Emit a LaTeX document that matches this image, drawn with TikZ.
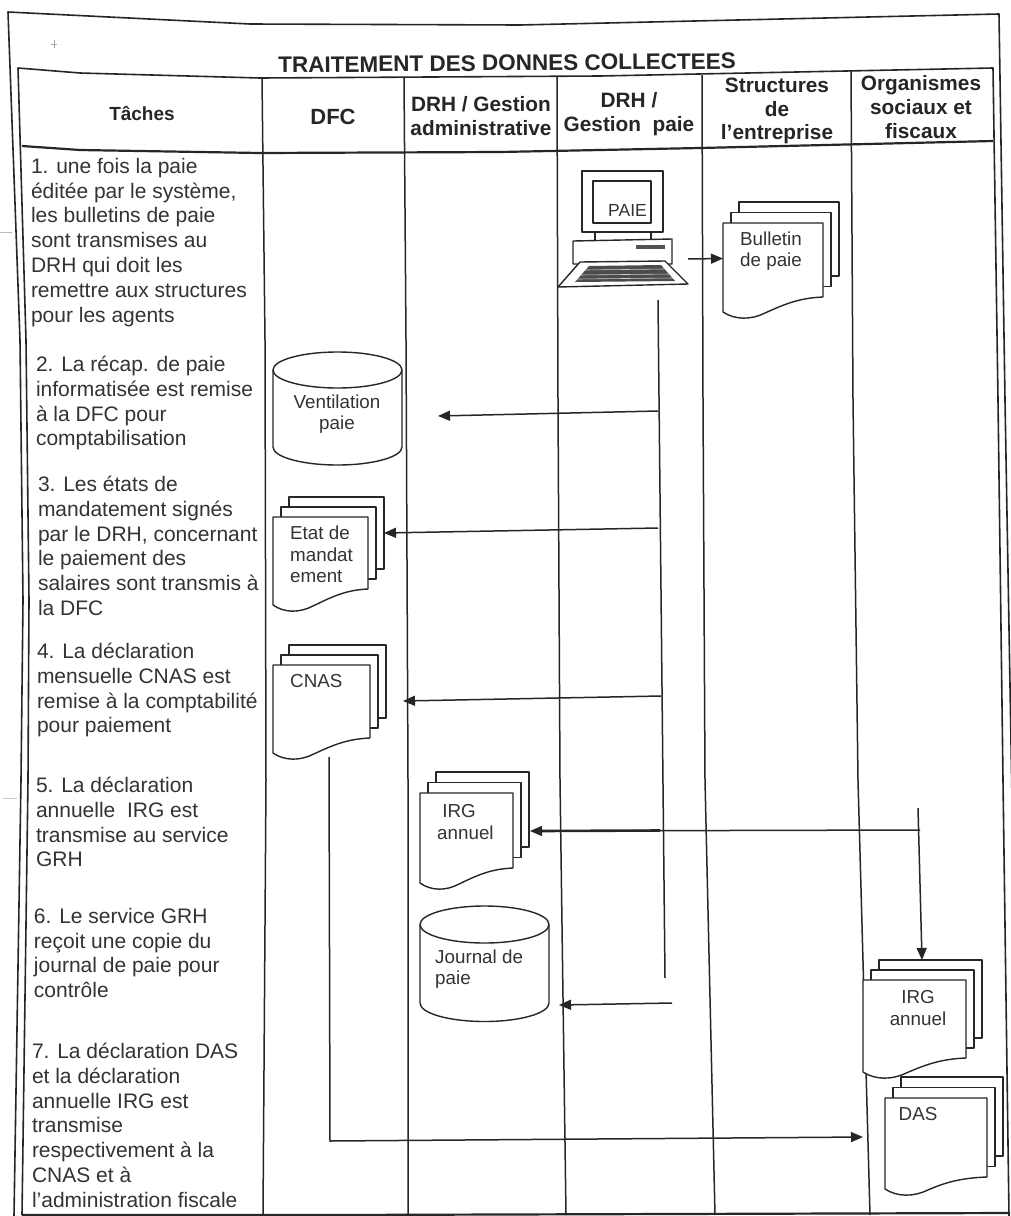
\documentclass[tikz,border=0pt]{standalone}
\usepackage{fontspec}
\setmainfont{Liberation Sans}
\usetikzlibrary{arrows.meta}
\definecolor{ink}{gray}{0.15}
\definecolor{txt}{gray}{0.2}
\tikzset{
  x=1pt,y=-1pt,
  frameline/.style={draw=ink,line width=1.6pt,line join=round},
  headline/.style={draw=ink,line width=2.2pt,line join=round},
  colline/.style={draw=ink,line width=1.5pt,line join=round},
  shapeline/.style={draw=ink,line width=1.4pt,fill=white,line join=round},
  conn/.style={draw=ink,line width=1.5pt},
  arrowconn/.style={conn,-{Triangle[length=12pt,width=10pt]}},
  task/.style={inner sep=0pt,outer sep=0pt,anchor=north west,align=left,text=txt,
     font=\fontsize{21}{24.8}\selectfont},
  head/.style={inner sep=0pt,align=center,text=ink,
     font=\fontsize{20.8}{23.8}\selectfont\bfseries},
  label/.style={inner sep=0pt,text=txt,font=\fontsize{18.8}{21.4}\selectfont},
  labelL/.style={label,anchor=west,align=left},
  labelC/.style={label,align=center},
}
\newcommand{\docpage}[3]{% w, hR, hL
  (0,0) -- (#1,0) -- (#1,#2)
  .. controls ({0.75*#1},{#2+1}) and ({0.6*#1},{#3-7}) .. ({0.42*#1},{#3+1})
  .. controls ({0.28*#1},{#3+8}) and ({0.12*#1},{#3+8}) .. (0,#3) -- cycle}
\newcommand{\docstack}[8]{% name, x, y, w, hR, hL, dx, dy
  \begin{scope}[shift={(#2,#3)}]
    \coordinate (#1) at (0,0);
    \path[shapeline] ({2*#7},{-2*#8}) rectangle ({2*#7+#4},{#5-2*#8});
    \path[shapeline] (#7,-#8) rectangle ({#7+#4},{#5-#8});
    \path[shapeline] \docpage{#4}{#5}{#6};
  \end{scope}}
\newcommand{\cylinder}[6]{% name, left, right, top centre y, side end y, ry
  \coordinate (#1) at (#2,#4);
  \path[shapeline] (#2,#4) -- (#2,#5) arc[start angle=180,end angle=360,x radius={(#3-#2)/2},y radius=-#6] -- (#3,#4);
  \path[shapeline] ({(#2+#3)/2},#4) ellipse[x radius={(#3-#2)/2},y radius=#6];}
\begin{document}
\begin{tikzpicture}
\useasboundingbox (0,0) rectangle (1010,1216);
\fill[white] (0,0) rectangle (1010,1216);

% scan marks
\draw[gray!55,line width=0.8pt] (0,232) -- (12,232);
\draw[gray!45,line width=0.8pt] (3,798) -- (17,798);
\draw[gray!70,line width=0.8pt] (54,40) -- (54,48) (51,44) -- (57,44);

% outer frame
\path[frameline] (14,1216) -- (21,780) -- (23,600) -- (20,340) -- (8,12) -- (250,24) -- (520,25) -- (999,14) -- (1005,400) -- (1012,800);
% table frame
\path[frameline] (22,1215) -- (28,780) -- (29,600) -- (26,340) -- (18,68) -- (80,73) -- (260,78) -- (600,76) -- (993,68) -- (998,400) -- (1003,780) -- (1009,1216);
\path[headline] (22,146) -- (80,150) -- (260,153) -- (500,152) -- (700,148) -- (993,141);
\path[headline] (22,1215) -- (330,1215) -- (1010,1213);
% column lines
\path[colline] (262,78) -- (265,340) -- (266,780) -- (263,1215);
\path[colline] (404,78) -- (406,340) -- (408,780) -- (408,1215);
\path[colline] (557,77) -- (558,400) -- (560,780) -- (566,1215);
\path[colline] (702,75) -- (703,400) -- (705,780) -- (715,1215);
\path[colline] (851,71) -- (853,400) -- (858,780) -- (870,1215);

% titles
\node[inner sep=0pt,text=ink,font=\fontsize{22.5}{26}\selectfont\bfseries,rotate=0.5] (title) at (507,63) {TRAITEMENT DES DONNES COLLECTEES};
\node[head,font=\fontsize{19}{23}\selectfont\bfseries] (hTaches) at (142,113) {Tâches};
\node[head,font=\fontsize{22}{26}\selectfont\bfseries] (hDFC) at (333,117) {DFC};
\node[head] (hGA) at (481,116) {DRH / Gestion\\administrative};
\node[head] (hGP) at (629,114) {DRH /\\Gestion\ \ paie};
\node[head] (hST) at (777,111) {Structures\\de\\l'entreprise};
\node[head] (hOR) at (921,107) {Organismes\\sociaux et\\fiscaux};

% task column
\node[task] (t1) at (31,158) {1. une fois la paie\\éditée par le système,\\les bulletins de paie\\sont transmises au\\DRH qui doit les\\remettre aux structures\\pour les agents};
\node[task] (t2) at (36,356) {2. La récap. de paie\\informatisée est remise\\à la DFC pour\\comptabilisation};
\node[task] (t3) at (38,476) {3. Les états de\\mandatement signés\\par le DRH, concernant\\le paiement des\\salaires sont transmis à\\la DFC};
\node[task] (t4) at (37,643) {4. La déclaration\\mensuelle CNAS est\\remise à la comptabilité\\pour paiement};
\node[task] (t5) at (36,777) {5. La déclaration\\annuelle\ \ IRG est\\transmise au service\\GRH};
\node[task] (t6) at (34,908) {6. Le service GRH\\reçoit une copie du\\journal de paie pour\\contrôle};
\node[task] (t7) at (32,1043) {7. La déclaration DAS\\et la déclaration\\annuelle IRG est\\transmise\\respectivement à la\\CNAS et à\\l'administration fiscale};

% computer
\path[shapeline] (582,171) rectangle (663,232);
\path[shapeline] (593,181) rectangle (651,223);
\node[label,anchor=west,font=\fontsize{17.5}{20}\selectfont] (paie) at (608,210) {PAIE};
\path[shapeline] (595,232) rectangle (651,241);
\path[shapeline] (573,241) -- (672,239) -- (672,264) -- (573,264) -- cycle;
\fill[ink!80] (636,245) rectangle (665,249);
\path[shapeline] (558,287) -- (580,262) -- (665,261) -- (688,284) -- cycle;
\fill[gray!60!black] (575,282) -- (589,266) -- (661,265) -- (675,281) -- cycle;
\draw[white!60!gray,line width=0.6pt] (585,270) -- (665,269) (580,275) -- (670,274) (577,279) -- (673,278);
\coordinate (pcOut) at (688,259);

% documents
\docstack{dBull}{723}{223}{100}{74}{89}{8}{10.5}
\node[labelL] (lBull) at (740,251) {Bulletin\\de paie};
\coordinate (dBullIn) at (723,258.5);

\cylinder{cVent}{273}{402}{370}{447}{18}
\node[labelC] (lVent) at (337,414) {Ventilation\\paie};

\docstack{dEtat}{273}{517}{95}{72}{88}{8}{10}
\node[labelL] (lEtat) at (290,554.5) {Etat de\\mandat\\ement};

\docstack{dCNAS}{273}{665}{97}{73}{88}{8}{10}
\node[labelL] (lCNAS) at (290,681) {CNAS};

\docstack{dIRGa}{420}{793}{93}{75}{90}{8}{10.5}
\node[labelL] (lIRGa) at (437,822) {\ IRG\\annuel};

\cylinder{cJour}{420}{549}{924.5}{1003}{18.5}
\node[labelL] (lJour) at (435,969) {Journal de\\paie};

\docstack{dDAS}{885}{1098}{102}{79}{91}{8}{10.5}
\node[label] (lDAS) at (918,1114) {DAS};

\docstack{dIRGb}{863}{980}{103}{78}{92}{8}{10}
\node[labelC] (lIRGb) at (918,1008) {IRG\\annuel};

% connector ends
\coordinate (drhTop) at (658,300);
\coordinate (drhEnd) at (665,978);
\coordinate (v1) at (658,411);
\coordinate (v1t) at (438,416);
\coordinate (v2) at (658,528);
\coordinate (v2t) at (384,533);
\coordinate (v3) at (661,696);
\coordinate (v3t) at (403,701);
\coordinate (orgTop) at (918,808);
\coordinate (orgTip) at (922,960);
\coordinate (o1) at (920,830);
\coordinate (o1t) at (530,831);
\coordinate (o1m) at (660,830.5);
\coordinate (o1n) at (540,831);
\coordinate (j1) at (672,1003);
\coordinate (j1t) at (559,1005);
\coordinate (c1) at (329,757);
\coordinate (c2) at (330,1141);
\coordinate (c3) at (863,1137);

% connectors
\draw[arrowconn] (pcOut) -- (dBullIn);
\draw[conn] (drhTop) -- (drhEnd);
\draw[arrowconn] (v1) -- (v1t);
\draw[arrowconn] (v2) -- (v2t);
\draw[arrowconn] (v3) -- (v3t);
\draw[arrowconn] (orgTop) -- (orgTip);
\draw[arrowconn] (o1) -- (o1t);
\draw[draw=ink,line width=2.6pt] (o1m) -- (o1n);
\draw[arrowconn] (j1) -- (j1t);
\draw[arrowconn,line join=miter] (c1) -- (c2) -- (c3);
\end{tikzpicture}
\end{document}
